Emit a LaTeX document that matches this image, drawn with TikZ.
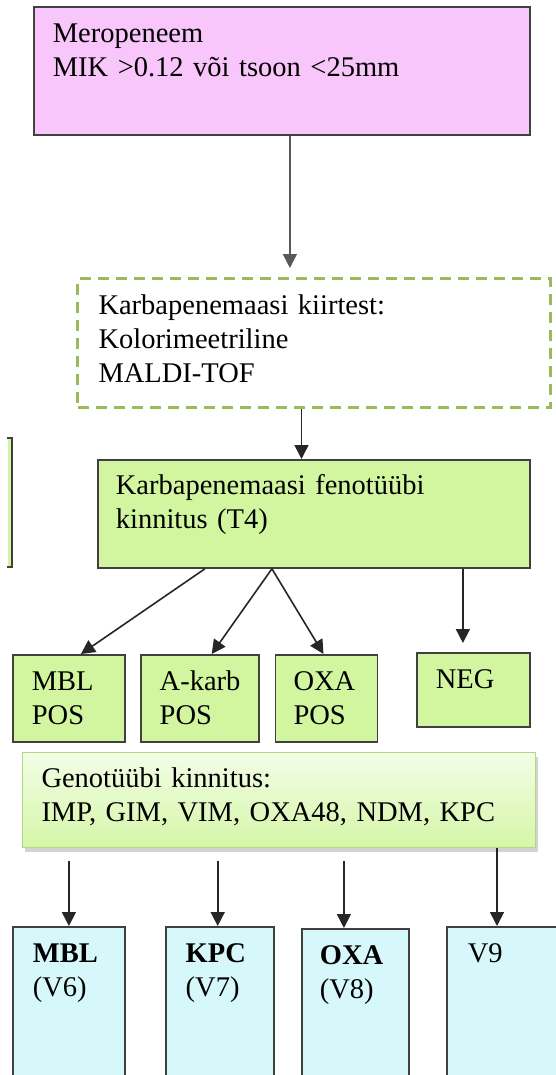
\documentclass[tikz,border=0pt]{standalone}
\usepackage{fontspec}
\setmainfont{Liberation Serif}
\usetikzlibrary{arrows.meta, shadows, positioning}
\definecolor{meropink}{RGB}{248,198,250}
\definecolor{testgreen}{RGB}{155,187,89}
\definecolor{fenogreen}{RGB}{210,246,160}
\definecolor{genotop}{RGB}{242,253,230}
\definecolor{genobot}{RGB}{214,246,168}
\definecolor{genoline}{RGB}{180,215,130}
\definecolor{resultblue}{RGB}{214,248,251}
\tikzstyle{box} = [rectangle, anchor=north west, align=left, inner xsep=19pt,
inner ysep=0pt, text height=36pt, line width=1.8pt, draw=black!75]
\tikzstyle{pinkbox} = [box, fill=meropink]
\tikzstyle{testbox} = [box, draw=testgreen, line width=3pt, dash pattern=on 11pt off 7pt]
\tikzstyle{greenbox} = [box, fill=fenogreen]
\tikzstyle{genebox} = [box, draw=genoline, line width=1pt, top color=genotop,
bottom color=genobot, drop shadow={opacity=0.35, shadow xshift=2pt, shadow yshift=-4pt}]
\tikzstyle{resultbox} = [box, fill=resultblue]
\tikzstyle{arrow} = [line width=1.6pt, draw=black!85, -{Triangle[width=14pt,length=14pt]}]

\begin{document}
\begin{tikzpicture}[x=1pt, y=-1pt, font=\fontsize{28.5}{34}\selectfont]
  \useasboundingbox (0,0) rectangle (556,1075);

  \node (mero) [pinkbox, text width=458pt, text depth=92pt] at (33,6) {Meropeneem\\MIK >0.12 või tsoon <25mm};
  \node (kiir) [testbox, inner xsep=21pt, text width=431pt, text depth=93pt] at (76,277) {Karbapenemaasi kiirtest:\\Kolorimeetriline\\MALDI-TOF};
  \node (feno) [greenbox, inner xsep=18pt, text width=396pt, text height=35pt, text depth=73pt] at (97,459) {Karbapenemaasi fenotüübi\\kinnitus (T4)};

  % cut-off box at the left edge
  \fill [fenogreen] (8,438) rectangle (12,567);
  \draw [line width=1.8pt, draw=black!75] (7,438) -- (12,438) -- (12,567) -- (7,567);

  \node (mblp) [greenbox, text width=74pt, text depth=51pt] at (12,654) {MBL\\POS};
  \node (akarb) [greenbox, text width=80pt, text depth=51pt, right=14pt of mblp] {\mbox{A-karb}\\POS};
  \node (oxap) [greenbox, inner xsep=18pt, text width=66pt, text depth=51pt, right=15pt of akarb] {OXA\\POS};
  \node (neg) [greenbox, text width=75pt, text depth=38pt] at (416,652) {NEG};

  \node (geno) [genebox, text width=475pt, text height=35pt, text depth=60pt] at (22,752) {Genotüübi kinnitus:\\IMP, GIM, VIM, OXA48, NDM, KPC};

  \node (v6) [resultbox, inner xsep=20pt, text width=72pt, text depth=140pt] at (12,926) {\textbf{MBL}\\(V6)};
  \node (v7) [resultbox, inner xsep=20pt, text width=68pt, text depth=140pt, right=39pt of v6] {\textbf{KPC}\\(V7)};
  \node (v8) [resultbox, inner xsep=18pt, text width=71pt, text depth=140pt] at (301,928) {\textbf{OXA}\\(V8)};
  \node (v9) [resultbox, inner xsep=21pt, text width=130pt, text depth=140pt] at (446,926) {V9};

  \draw [arrow, draw=black!65, shorten >=9pt] ([xshift=8pt]mero.south) -- ([xshift=8pt]mero.south |- kiir.north);
  \draw [arrow] ([xshift=-12.5pt]kiir.south) -- ([xshift=-12.5pt]kiir.south |- feno.north);
  \draw [arrow] ([xshift=-109pt]feno.south) -- ([xshift=12pt]mblp.north);
  \draw [arrow] ([xshift=-42pt]feno.south) -- ([xshift=12pt]akarb.north);
  \draw [arrow] ([xshift=-42pt]feno.south) -- ([xshift=-3pt]oxap.north);
  \draw [arrow, shorten >=9pt] ([xshift=-10.5pt]neg.north |- feno.south) -- ([xshift=-10.5pt]neg.north);
  \draw [arrow, shorten <=13pt] (v6.north |- geno.south) -- (v6.north);
  \draw [arrow, shorten <=13pt] ([xshift=-2pt]v7.north |- geno.south) -- ([xshift=-2pt]v7.north);
  \draw [arrow, shorten <=13pt] ([xshift=-11.5pt]v8.north |- geno.south) -- ([xshift=-11.5pt]v8.north);
  \draw [arrow] ([xshift=51pt]v9.north west |- geno.south) -- ([xshift=51pt]v9.north west);
\end{tikzpicture}
\end{document}
